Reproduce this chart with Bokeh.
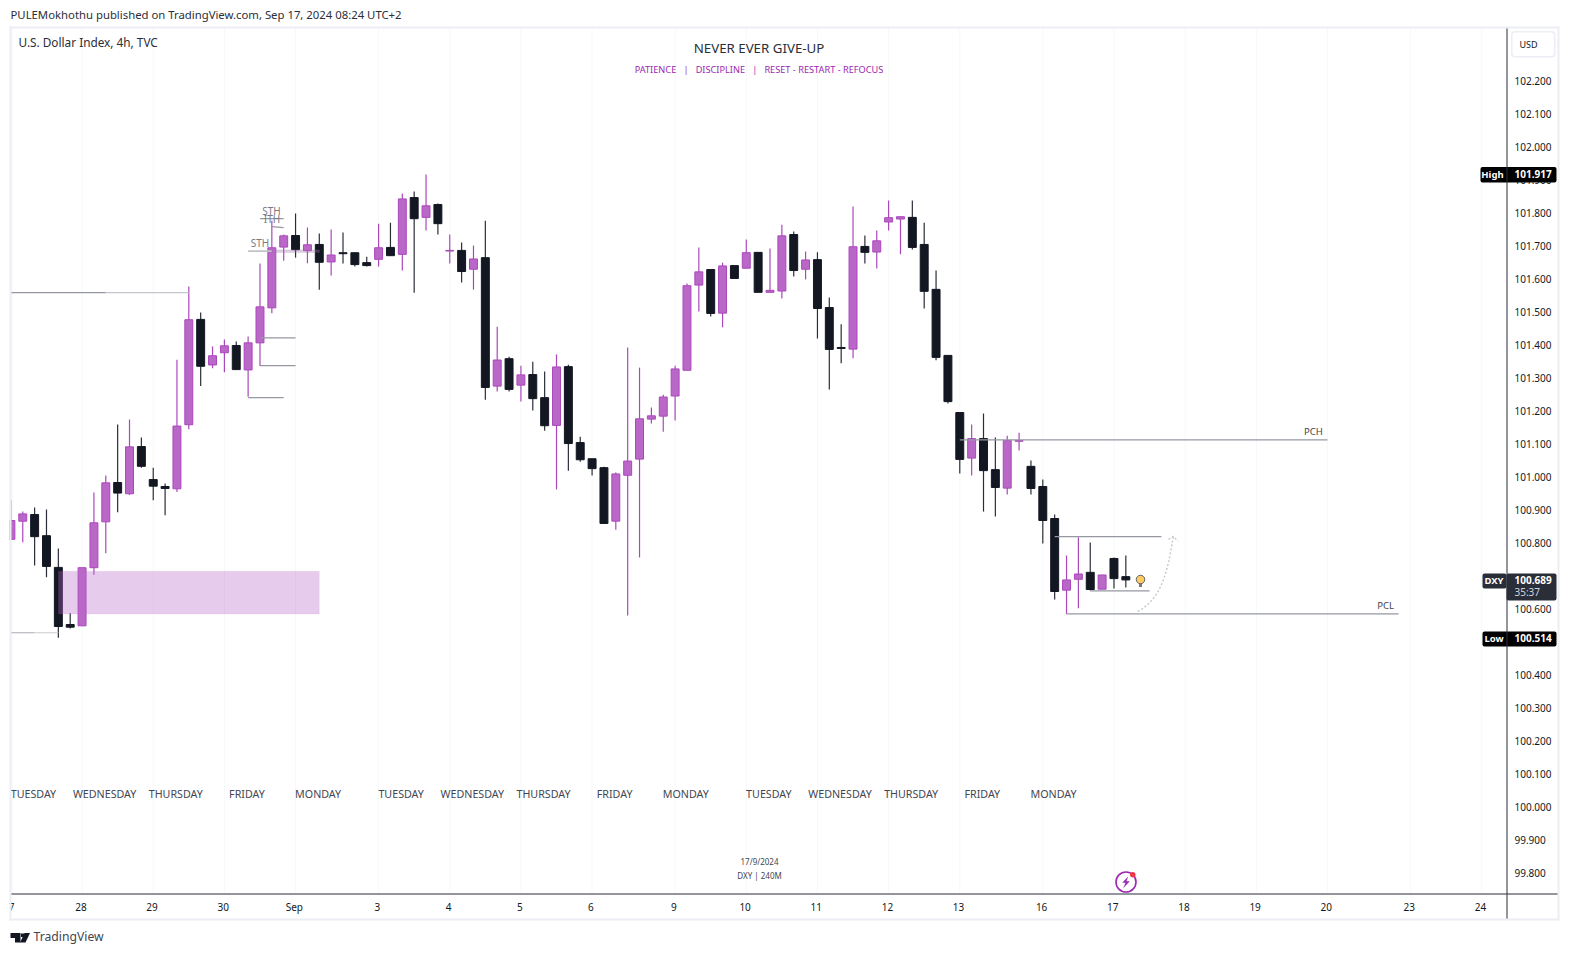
from bokeh.embed import file_html
from bokeh.resources import INLINE
from bokeh.plotting import figure
from bokeh.models import (Range1d, FixedTicker, Label, BoxAnnotation, PolyAnnotation,
                          ColumnDataSource, LinearAxis)
from bokeh.core.properties import value

FONT = "Noto Sans"

# ---- candles (price) -------------------------------------------------
opens = [100.812,100.867,100.887,100.823,100.727,100.554,100.550,100.726,100.865,100.984,
         100.950,101.093,100.993,100.972,100.965,101.159,101.478,101.340,101.377,101.399,
         101.325,101.407,101.513,101.697,101.732,101.686,101.705,101.652,101.680,101.680,
         101.650,101.660,101.696,101.675,101.847,101.787,101.826,101.685,101.687,101.630,
         101.665,101.276,101.359,101.279,101.311,101.241,101.157,101.335,101.105,101.056,
         101.029,100.867,101.006,101.055,101.176,101.185,101.246,101.324,101.582,101.629,
         101.497,101.641,101.633,101.681,101.560,101.564,101.735,101.630,101.659,101.514,
         101.393,101.388,101.699,101.682,101.773,101.782,101.787,101.705,101.569,101.369,
         101.196,101.058,101.117,101.023,100.967,101.109,101.033,100.972,100.875,100.658,
         100.691,100.712,100.661,100.754,100.699]
highs = [100.930,100.896,100.908,100.902,100.784,100.588,100.726,100.954,101.005,101.160,
         101.175,101.120,101.029,100.981,101.356,101.578,101.499,101.396,101.417,101.411,
         101.426,101.647,101.777,101.735,101.799,101.756,101.738,101.750,101.741,101.680,
         101.668,101.768,101.771,101.859,101.865,101.917,101.829,101.735,101.711,101.702,
         101.777,101.456,101.365,101.338,101.350,101.320,101.372,101.341,101.123,101.056,
         101.032,101.014,101.393,101.332,101.211,101.250,101.338,101.587,101.696,101.629,
         101.650,101.641,101.720,101.681,101.693,101.765,101.744,101.684,101.681,101.544,
         101.463,101.820,101.732,101.747,101.838,101.790,101.838,101.771,101.626,101.369,
         101.196,101.160,101.193,101.120,101.126,101.135,101.051,100.993,100.887,100.763,
         100.818,100.802,100.704,100.757,100.763]
lows = [100.812,100.803,100.733,100.697,100.514,100.542,100.550,100.705,100.770,100.894,
        100.946,101.029,100.930,100.885,100.955,101.145,101.276,101.330,101.318,101.326,
        101.244,101.337,101.497,101.656,101.665,101.648,101.568,101.611,101.647,101.638,
        101.638,101.638,101.671,101.626,101.559,101.747,101.735,101.647,101.590,101.568,
        101.235,101.260,101.260,101.229,101.202,101.141,100.963,101.020,101.047,101.005,
        100.860,100.841,100.581,100.757,101.163,101.138,101.172,101.324,101.502,101.487,
        101.454,101.602,101.633,101.560,101.560,101.541,101.608,101.599,101.420,101.266,
        101.345,101.360,101.647,101.632,101.747,101.675,101.690,101.511,101.354,101.223,
        101.011,101.005,100.896,100.881,100.948,101.081,100.948,100.799,100.630,100.586,
        100.603,100.657,100.661,100.663,100.666]
closes = [100.869,100.889,100.820,100.730,100.548,100.546,100.726,100.862,100.983,100.952,
          101.092,101.033,100.973,100.966,101.155,101.477,101.336,101.368,101.398,101.326,
          101.407,101.516,101.695,101.731,101.689,101.704,101.651,101.673,101.677,101.644,
          101.641,101.695,101.671,101.843,101.783,101.822,101.768,101.687,101.623,101.661,
          101.272,101.355,101.266,101.310,101.238,101.156,101.334,101.102,101.053,101.026,
          100.860,101.010,101.049,101.177,101.186,101.243,101.328,101.580,101.622,101.496,
          101.640,101.602,101.680,101.560,101.566,101.731,101.626,101.658,101.511,101.387,
          101.390,101.698,101.681,101.716,101.786,101.789,101.696,101.563,101.363,101.229,
          101.054,101.117,101.020,100.969,101.111,101.111,100.966,100.869,100.654,100.689,
          100.707,100.660,100.704,100.693,100.689]

# ---- axis labels -----------------------------------------------------
price_ticks = [99.8,99.9,100.0,100.1,100.2,100.3,100.4,100.6,100.8,100.9,101.0,
               101.1,101.2,101.3,101.4,101.5,101.6,101.7,101.8,101.9,102.0,102.1,102.2]
date_ticks = [0.15,6,12,18,24,31,37,43,49,56,62,68,74,80,87,93,99,105,111,118,124]
date_labels = ["7","28","29","30","Sep","3","4","5","6","9","10","11","12","13","16","17",
               "18","19","20","23","24"]

# ---- weekday annotations --------------------------------------------
day_names = ["TUESDAY","WEDNESDAY","THURSDAY","FRIDAY","MONDAY","TUESDAY","WEDNESDAY","THURSDAY",
             "FRIDAY","MONDAY","TUESDAY","WEDNESDAY","THURSDAY","FRIDAY","MONDAY"]
day_bars = [2,8,14,20,26,33,39,45,51,57,64,70,76,82,88]
day_price = 100.042

# ---- drawn levels: bar from, bar to, price -----------------------------
lvl_x0 = [0, 8, 0, 2, 21, 21, 20, 21, 22, 80, 89, 88, 91]
lvl_x1 = [8, 15, 2, 4, 24, 24, 23, 23, 23, 111, 117, 97, 96]
lvl_y0 = [101.559,101.559,100.529,100.529,101.422,101.338,101.241,101.783,101.759,101.113,100.586,100.820,100.656]
lvl_y1 = [101.559,101.559,100.529,100.529,101.422,101.338,101.241,101.783,101.756,101.113,100.586,100.820,100.656]
lvl_col = ["#9598a1","#c4c6cc","#a8abb3","#c9cbd0"] + ["#9598a1"] * 9

# zones
zone_left, zone_right, zone_top, zone_bottom = 4, 26, 100.7155, 100.586
thin_left, thin_right, thin_top, thin_bottom = 22, 26, 101.688, 101.681

UP_FILL, UP_LINE, DOWN = "#ba68c8", "#ab47bc", "#131722"


def xd(px):
    return (px - 10.4) / 11.861


def yd(py):
    return 102.2 - (py - 80.5) / 330.2


# The frame covers the whole canvas, so the page furniture around the chart stays visible;
# the two axes are pinned at the chart's own right and bottom edges.
W, H = 1565, 950
p = figure(width=W, height=H, output_backend="svg", toolbar_location=None,
           x_range=Range1d(xd(0), xd(W)), y_range=Range1d(yd(H), yd(0)),
           x_axis_location=None, y_axis_location=None, min_border=0, outline_line_color=None,
           background_fill_color="white", border_fill_color="white")
p.grid.visible = False

# grid (only inside the chart)
p.segment(x0=[max(t, 0) for t in date_ticks], x1=[max(t, 0) for t in date_ticks],
          y0=[yd(893)] * len(date_ticks), y1=[yd(27)] * len(date_ticks), line_color="#f7f8fa", line_width=1)

# axes
yax = LinearAxis(ticker=FixedTicker(ticks=price_ticks), fixed_location=xd(1506),
                 major_label_overrides={t: f"{t:.3f}" for t in price_ticks})
axis_ticks = [round(t - 0.1, 2) for t in date_ticks]
xax = LinearAxis(ticker=FixedTicker(ticks=axis_ticks), fixed_location=yd(893),
                 major_label_overrides=dict(zip(axis_ticks, date_labels)))
for ax in (xax, yax):
    ax.axis_line_color = None
    ax.major_tick_line_color = None
    ax.minor_tick_line_color = None
    ax.major_tick_in = 0
    ax.major_tick_out = 0
    ax.minor_tick_in = 0
    ax.minor_tick_out = 0
    ax.major_label_text_font = FONT
    ax.major_label_text_font_size = "10px"
    ax.major_label_text_color = "#131722"
yax.major_label_standoff = 8
xax.major_label_standoff = 6
p.add_layout(yax, "right")
p.add_layout(xax, "below")

# candles
bars = list(range(len(opens)))
src = ColumnDataSource(dict(
    x=bars, o=opens, h=highs, l=lows, c=closes,
    top=[max(a, b) for a, b in zip(opens, closes)],
    bot=[min(a, b) for a, b in zip(opens, closes)],
    wick=[UP_LINE if c > o else "#2a2e39" for o, c in zip(opens, closes)],
    fill=[UP_FILL if c > o else DOWN for o, c in zip(opens, closes)],
    edge=[UP_LINE if c > o else DOWN for o, c in zip(opens, closes)],
))
p.segment(x0="x", x1="x", y0="h", y1="l", source=src, line_color="wick", line_width=1.2)
p.vbar(x="x", top="top", bottom="bot", width=0.67, source=src, fill_color="fill", line_color="edge", line_width=1)

# levels
p.segment(x0=lvl_x0, x1=lvl_x1, y0=lvl_y0, y1=lvl_y1, line_color=lvl_col, line_width=1.2)
p.segment(x0=[20], x1=[22], y0=[101.685], y1=[101.685], line_color="#c0c2c8", line_width=1.8)

# zones
p.quad(left=[zone_left], right=[zone_right], top=[zone_top], bottom=[zone_bottom],
       fill_color="#ba68c8", fill_alpha=0.34, line_color="#ba68c8", line_alpha=0.08)
p.quad(left=[thin_left], right=[thin_right], top=[thin_top], bottom=[thin_bottom],
       fill_color="#ba68c8", fill_alpha=0.3, line_color="#787b86", line_alpha=0.25)

# dotted forecast arrow
p.bezier(x0=[95], y0=[100.594], x1=[98], y1=[100.821], cx0=[97.1], cy0=[100.63], cx1=[97.6], cy1=[100.73],
         line_color="#c8cad0", line_width=1.5, line_dash="2 2")
p.multi_line(xs=[[97.6, 98, 98.4]], ys=[[100.812, 100.821, 100.806]], line_color="#c8cad0", line_width=1.5,
             line_dash="2 2")

# weekday text
p.text(x=[d - 0.1 for d in day_bars], y=[day_price] * len(day_bars), text=day_names, text_align="center",
       text_baseline="middle", text_font=value(FONT), text_font_size="10.7px", text_color="#434651")

# bulb
p.quad(left=[xd(1138.5)], right=[xd(1141.5)], top=[yd(582)], bottom=[yd(586.5)], fill_color="#787b86", line_color=None)
p.scatter(x=[xd(1140)], y=[yd(579)], size=8.5, marker="circle", fill_color="#ffcb60", line_color="#5d606b", line_width=1)

# bolt icon
p.scatter(x=[xd(1125.5)], y=[yd(881.5)], size=20, marker="circle", fill_color="white", line_color="#9c27b0", line_width=1.6)
p.patch(x=[xd(v) for v in (1127.7, 1121.7, 1125, 1122.7, 1129.3, 1126)],
        y=[yd(v) for v in (876, 882.3, 882.3, 887.7, 880.7, 880.7)], fill_color="#9c27b0", line_color=None)
p.scatter(x=[xd(1132.3)], y=[yd(874.3)], size=5.5, marker="circle", fill_color="#f23645", line_color=None)


def label(px, py, text, size, color="#131722", align="left", bold=False):
    p.add_layout(Label(x=xd(px), y=yd(py), text=text, text_font=FONT, text_font_size=size, text_color=color,
                       text_align=align, text_baseline="middle",
                       text_font_style="bold" if bold else "normal", level="annotation"))


def box(x0, x1, y0, y1, color, radius=0):
    p.add_layout(BoxAnnotation(left=xd(x0), right=xd(x1), top=yd(y0), bottom=yd(y1), fill_color=color, fill_alpha=1,
                               line_alpha=0, border_radius=radius, level="annotation", editable=False))


# white mask left of the chart, where the first candle is cut
box(0, 9, 0, H, "white")

# outer frame and dividing lines
FRAME = "#eceef4"
box(9, 11, 26, 920, FRAME)
box(1557, 1559, 26, 920, FRAME)
box(9, 1559, 26, 28, FRAME)
box(9, 1559, 918, 920, FRAME)

# USD button
box(1510.5, 1555, 30.5, 57, FRAME, 4)
box(1512, 1553.5, 32, 55.5, "white", 3)
label(1528, 43.5, "USD", "9px", align="center")

# price tags
box(1480, 1556, 166.5, 182, "#000000", 2)
label(1492, 173.5, "High", "9.5px", "white", "center", True)
label(1514, 173.5, "101.917", "10px", "white", bold=True)
box(1482, 1506, 573, 588, "#2a2e39", 2)
box(1506, 1556, 573, 600, "#2a2e39", 2)
label(1493.5, 579.5, "DXY", "9.5px", "white", "center", True)
label(1514, 579.5, "100.689", "10px", "white", bold=True)
label(1514, 591.5, "35:37", "10px", "#d1d4dc")
box(1482, 1556, 631, 646, "#000000", 2)
label(1493.5, 637.5, "Low", "9.5px", "white", "center", True)
label(1514, 637.5, "100.514", "10px", "white", bold=True)

box(1506, 1507, 28, 918, "#2a2e39")
box(11, 1557, 893, 894, "#2a2e39")

# texts
NB = "\u00a0"
label(10, 13.5, "PULEMokhothu published on TradingView.com, Sep 17, 2024 08:24 UTC+2", "11.33px", "#2a2e39")
label(18, 41, "U.S. Dollar Index, 4h, TVC", "11.8px", "#2a2e39")
label(758.5, 47, "NEVER EVER GIVE-UP", "13.3px", "#2a2e39", "center")
label(758.5, 69, f"PATIENCE{NB*3}|{NB*3}DISCIPLINE{NB*3}|{NB*3}RESET - RESTART - REFOCUS", "9.2px", "#9c27b0", "center")
label(759, 860.5, "17/9/2024", "8px", "#434651", "center")
label(759, 874.5, f"DXY{NB}|{NB}240M", "8px", "#434651", "center")
label(259.5, 242, "STH", "10px", "#787b86", "center")
label(271, 210.5, "STH", "10px", "#787b86", "center")
label(271.5, 218.5, "ITH", "10px", "#787b86", "center")
label(1313, 431, "PCH", "9.5px", "#434651", "center")
label(1385, 604.5, "PCL", "9.5px", "#434651", "center")
label(33, 936, "TradingView", "12.2px", "#434651")

# TradingView mark
LOGO = "#131722"
for xs_px, ys_px in (((10, 20, 20, 14.5, 14.5, 10), (932.5, 932.5, 942, 942, 937.5, 937.5)),
                     ((24, 29.5, 25, 19.5), (932.5, 932.5, 942, 942)),
                     ((20.5, 23.5, 23.5, 20.5), (933, 933, 936.5, 936.5))):
    p.add_layout(PolyAnnotation(xs=[xd(v) for v in xs_px], ys=[yd(v) for v in ys_px],
                                fill_color=LOGO, fill_alpha=1, line_alpha=0, level="annotation", editable=False))

open("out.html", "w").write(file_html(p, INLINE))
